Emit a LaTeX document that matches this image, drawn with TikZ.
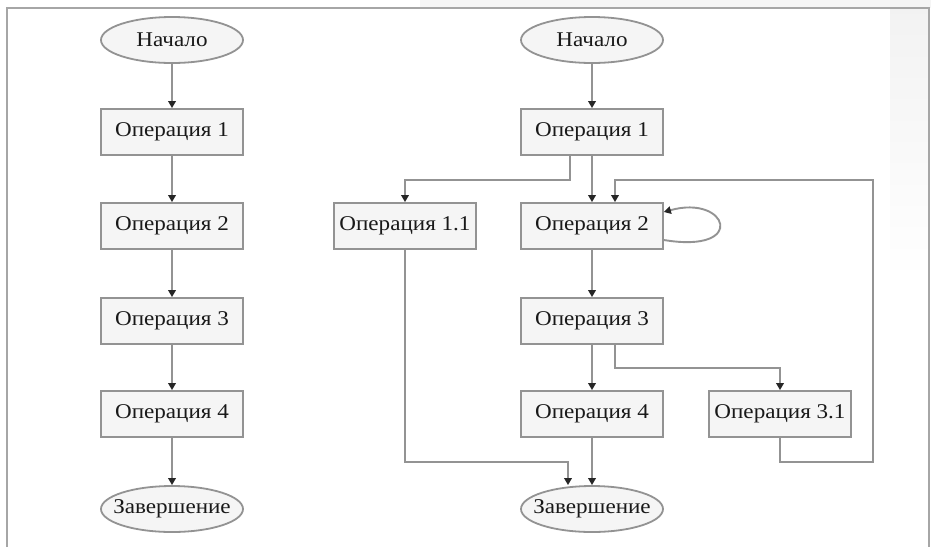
\documentclass[tikz,border=0pt]{standalone}
\usepackage{fontspec}
\setmainfont{Liberation Serif}[FakeStretch=1.1]
\usetikzlibrary{arrows.meta,positioning,shapes.geometric}

\begin{document}
\begin{tikzpicture}[x=1pt, y=-1pt, font=\fontsize{21}{25}\selectfont, text=black!90,
  opbox/.style={draw=gray!85, fill=gray!8, line width=1.8pt, minimum width=142pt, minimum height=46pt, inner sep=0pt},
  term/.style={ellipse, draw=gray!85, fill=gray!8, line width=1.8pt, minimum width=142pt, minimum height=46pt, inner xsep=-14pt, inner ysep=0pt},
  flow/.style={draw=gray!85, line width=1.9pt, -{Triangle[length=7pt, width=7.5pt, color=black!85]}}]
  \useasboundingbox (0,0) rectangle (931,547);
  % screen frame
  \fill[gray!8] (420,0) rectangle (931,8);
  \shade[top color=gray!10, bottom color=white] (890,8) rectangle (928,280);
  \draw[gray!70, line width=1.4pt] (7,547) -- (7,8) -- (929,8) -- (929,547);

  % left chart
  \node[term]  (begl) at (172,40)  {Начало};
  \node[opbox] (op1l) at (172,132) {Операция 1};
  \node[opbox] (op2l) at (172,226) {Операция 2};
  \node[opbox] (op3l) at (172,321) {Операция 3};
  \node[opbox] (op4l) at (172,414) {Операция 4};
  \node[term]  (endl) at (172,509) {Завершение};
  \draw[flow] (begl) -- (op1l);
  \draw[flow] (op1l) -- (op2l);
  \draw[flow] (op2l) -- (op3l);
  \draw[flow] (op3l) -- (op4l);
  \draw[flow] (op4l) -- (endl);

  % right chart
  \node[term]  (begr) at (592,40)  {Начало};
  \node[opbox] (op1r) at (592,132) {Операция 1};
  \node[opbox] (op11) at (405,226) {Операция 1.1};
  \node[opbox] (op2r) at (592,226) {Операция 2};
  \node[opbox] (op3r) at (592,321) {Операция 3};
  \node[opbox] (op4r) at (592,414) {Операция 4};
  \node[opbox] (op31) at (780,414) {Операция 3.1};
  \node[term]  (endr) at (592,509) {Завершение};
  \draw[flow] (begr) -- (op1r);
  \draw[flow] (op1r) -- (op2r);
  \draw[flow] ([xshift=-22pt]op1r.south) -- ++(0,24) -| (op11.north);
  \draw[flow] ([yshift=-14pt]op2r.east) .. controls (748,254) and (728,194) .. ([yshift=14pt]op2r.east);
  \draw[flow] (op2r) -- (op3r);
  \draw[flow] (op3r) -- (op4r);
  \draw[flow] ([xshift=23pt]op3r.south) -- ++(0,23) -| (op31.north);
  \draw[flow] (op31.south) -- ++(0,24) -| ++(93,-282) -| ([xshift=23pt]op2r.north);
  \draw[flow] (op4r) -- (endr);
  \draw[flow] (op11.south) -- ++(0,212) -| ([xshift=-24pt]endr.north);
\end{tikzpicture}
\end{document}
